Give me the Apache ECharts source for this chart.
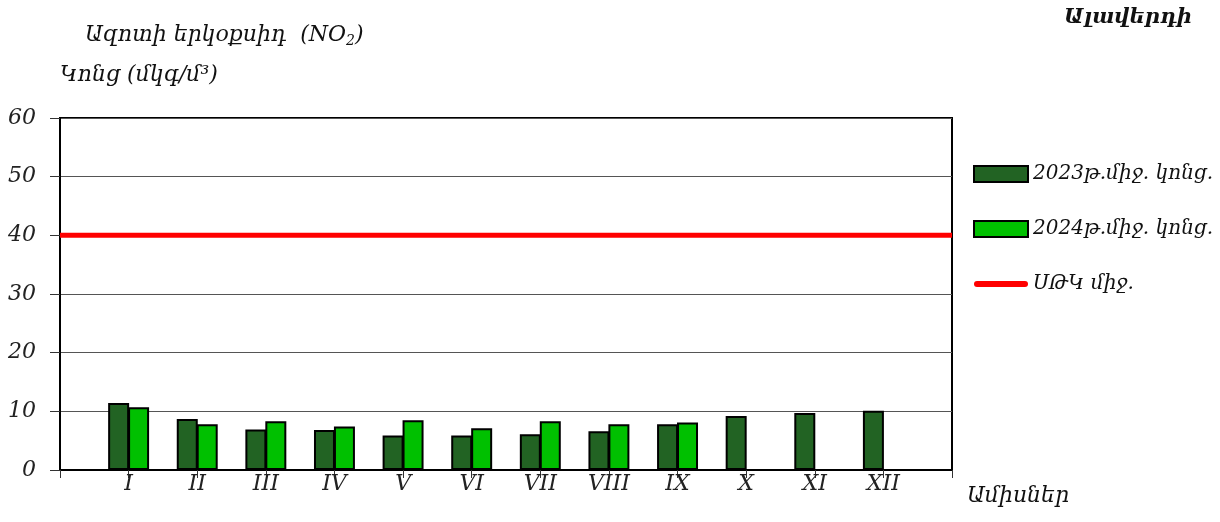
<!DOCTYPE html>
<html>
<head>
<meta charset="utf-8">
<script src="https://cdn.jsdelivr.net/npm/echarts@6/dist/echarts.min.js"></script>
<style>
html,body{margin:0;padding:0;background:#fff;}
#c{width:1220px;height:522px;}
</style>
</head>
<body>
<div id="c"></div>
<script>
// Data
var months = ['', 'I', 'II', 'III', 'IV', 'V', 'VI', 'VII', 'VIII', 'IX', 'X', 'XI', 'XII', ''];
var avg2023 = [null, 11.4, 8.7, 6.9, 6.8, 5.9, 5.9, 6.1, 6.6, 7.8, 9.2, 9.7, 10.1, null];
var avg2024 = [null, 10.7, 7.8, 8.3, 7.4, 8.5, 7.1, 8.3, 7.8, 8.1, null, null, null, null];
var limitValue = 40;
var limitLine = months.map(function () { return limitValue; });
var seriesNames = ['2023թ.միջ. կոնց.', '2024թ.միջ. կոնց.', 'ՍԹԿ միջ.'];
var titleText = 'Ազոտի երկօքսիդ  (NO';
var unitText = 'Կոնց (մկգ/մ³)';
var cityText = 'Ալավերդի';
var xName = 'Ամիսներ';

var FONT = '"DejaVu Serif", serif';
var chart = echarts.init(document.getElementById('c'), null, {renderer: 'canvas'});
chart.setOption({
  animation: false,
  backgroundColor: '#fff',
  textStyle: {fontFamily: FONT},
  graphic: [
    {type: 'text', left: 85, top: 24, style: {
      text: '{a|' + titleText + '}{s|2}{a|)}',
      rich: {
        a: {fontFamily: FONT, fontStyle: 'italic', fontSize: 22, fill: '#111'},
        s: {fontFamily: FONT, fontStyle: 'italic', fontSize: 14, fill: '#111', padding: [12, 0, 0, 0]}
      }}},
    {type: 'text', left: 60, top: 64, style: {text: unitText, fontFamily: FONT, fontStyle: 'italic', fontSize: 22, fill: '#111'}},
    {type: 'text', right: 28, top: 7, style: {text: cityText, fontFamily: FONT, fontStyle: 'italic', fontWeight: 'bold', fontSize: 21, fill: '#111'}},
    {type: 'text', left: 967, top: 485, style: {text: xName, fontFamily: FONT, fontStyle: 'italic', fontSize: 22, fill: '#111'}}
  ],
  legend: {
    orient: 'vertical',
    left: 968,
    top: 159,
    itemWidth: 54,
    itemHeight: 16,
    itemGap: 35,
    data: [
      {name: seriesNames[0], icon: 'rect', itemStyle: {borderColor: '#000', borderWidth: 2}},
      {name: seriesNames[1], icon: 'rect', itemStyle: {borderColor: '#000', borderWidth: 2}},
      {name: seriesNames[2], icon: 'path://M3,0 L51,0 A3,3 0 0 1 51,6 L3,6 A3,3 0 0 1 3,0 Z',
       itemStyle: {color: '#FF0000', borderWidth: 0}}
    ],
    textStyle: {fontFamily: FONT, fontStyle: 'italic', fontSize: 20, color: '#111', padding: [0, 0, 0, 0]}
  },
  grid: {left: 60, right: 268, top: 118, bottom: 52, show: true, borderColor: '#000', borderWidth: 2, containLabel: false},
  xAxis: {
    type: 'category',
    data: months,
    boundaryGap: false,
    axisLine: {show: true, lineStyle: {color: '#000', width: 2}},
    axisTick: {show: true, length: 8, lineStyle: {color: '#333', width: 1}},
    axisLabel: {fontFamily: FONT, fontStyle: 'italic', fontSize: 22, color: '#222', margin: 3, interval: 0},
    splitLine: {show: false}
  },
  yAxis: {
    type: 'value',
    min: 0, max: 60, interval: 10,
    axisLine: {show: true, lineStyle: {color: '#000', width: 2}},
    axisTick: {show: true, length: 10, lineStyle: {color: '#333', width: 1}},
    axisLabel: {fontFamily: FONT, fontStyle: 'italic', fontSize: 22, color: '#222', margin: 24},
    splitLine: {show: true, lineStyle: {color: '#555', width: 1}}
  },
  series: [
    {name: seriesNames[0], type: 'bar', data: avg2023, barWidth: 21, barGap: '-5%',
     itemStyle: {color: '#226323', borderColor: '#000', borderWidth: 2}},
    {name: seriesNames[1], type: 'bar', data: avg2024, barWidth: 21, barGap: '-5%',
     itemStyle: {color: '#00C000', borderColor: '#000', borderWidth: 2}},
    {name: seriesNames[2], type: 'line', data: limitLine, symbol: 'none', z: 5,
     itemStyle: {color: '#FF0000'},
     lineStyle: {color: '#FF0000', width: 5}}
  ]
});
</script>
</body>
</html>
